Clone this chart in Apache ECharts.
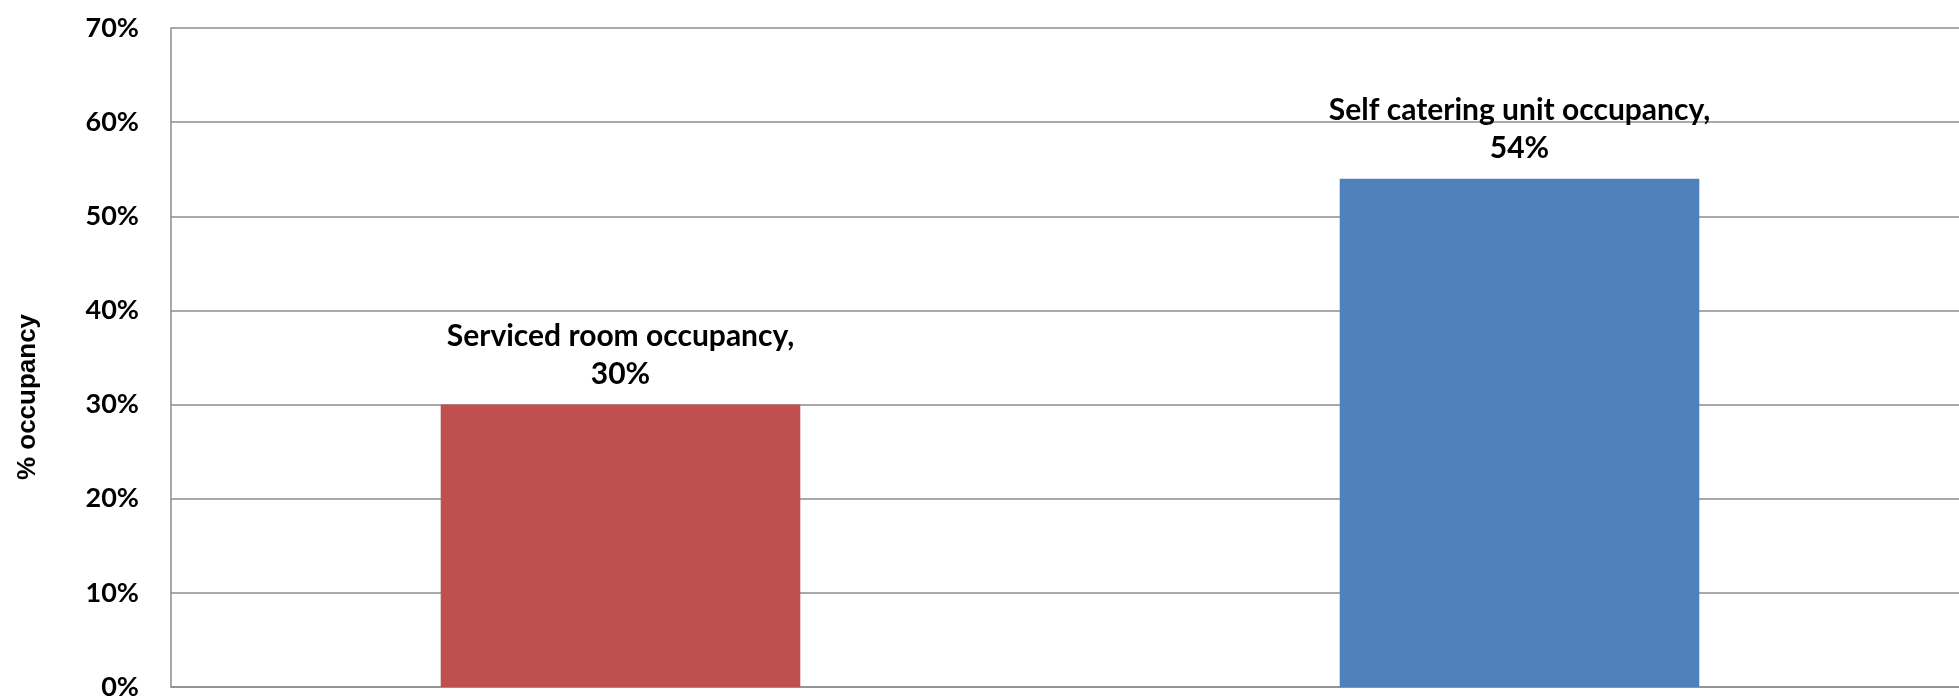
<!DOCTYPE html>
<html>
<head>
<meta charset="utf-8">
<script src="https://cdn.jsdelivr.net/npm/echarts@6/dist/echarts.min.js"></script>
<style>
  html, body { margin: 0; padding: 0; background: #fff; }
  #chart { width: 1959px; height: 698px; }
</style>
</head>
<body>
<div id="chart"></div>
<script>
  // data
  var categories = ['Serviced room occupancy', 'Self catering unit occupancy'];
  var occupancy = [30, 54];
  var barColors = ['#C0504D', '#4F81BD'];
  var yTicks = [0, 10, 20, 30, 40, 50, 60, 70];

  var chart = echarts.init(document.getElementById('chart'));
  var lineGray = '#8c8c8c';

  var option = {
    animation: false,
    // plot area runs a little past the right edge of the picture
    grid: { left: 171, width: 1798, top: 28, bottom: 11, outerBoundsMode: 'none' },
    graphic: [{
      type: 'text',
      x: 28, y: 397,
      rotation: Math.PI / 2,
      style: {
        text: '% occupancy',
        font: 'bold 26px "Liberation Sans", Arial, sans-serif',
        fill: '#000',
        align: 'center',
        verticalAlign: 'middle'
      }
    }],
    xAxis: {
      type: 'category',
      data: categories,
      axisLine: { lineStyle: { color: lineGray, width: 1.5 } },
      axisTick: { show: false },
      axisLabel: { show: false },
      splitLine: { show: false }
    },
    yAxis: {
      type: 'value',
      min: yTicks[0],
      max: yTicks[yTicks.length - 1],
      interval: 10,
      axisLine: { show: true, lineStyle: { color: lineGray, width: 1.5 } },
      axisTick: { show: false },
      axisLabel: {
        formatter: '{value}%',
        color: '#000',
        fontFamily: 'Lato, sans-serif',
        fontWeight: 'bold',
        fontSize: 27,
        margin: 32
      },
      splitLine: { lineStyle: { color: lineGray, width: 1.5 } }
    },
    series: [{
      type: 'bar',
      barWidth: '40%',
      data: occupancy.map(function (v, i) {
        return { value: v, itemStyle: { color: barColors[i] } };
      }),
      label: {
        show: true,
        position: 'top',
        distance: 11,
        formatter: '{b},\n{c}%',
        color: '#000',
        fontFamily: 'Lato, sans-serif',
        fontWeight: 'bold',
        fontSize: 30,
        lineHeight: 38,
        align: 'center'
      }
    }]
  };
  chart.setOption(option);
</script>
</body>
</html>
